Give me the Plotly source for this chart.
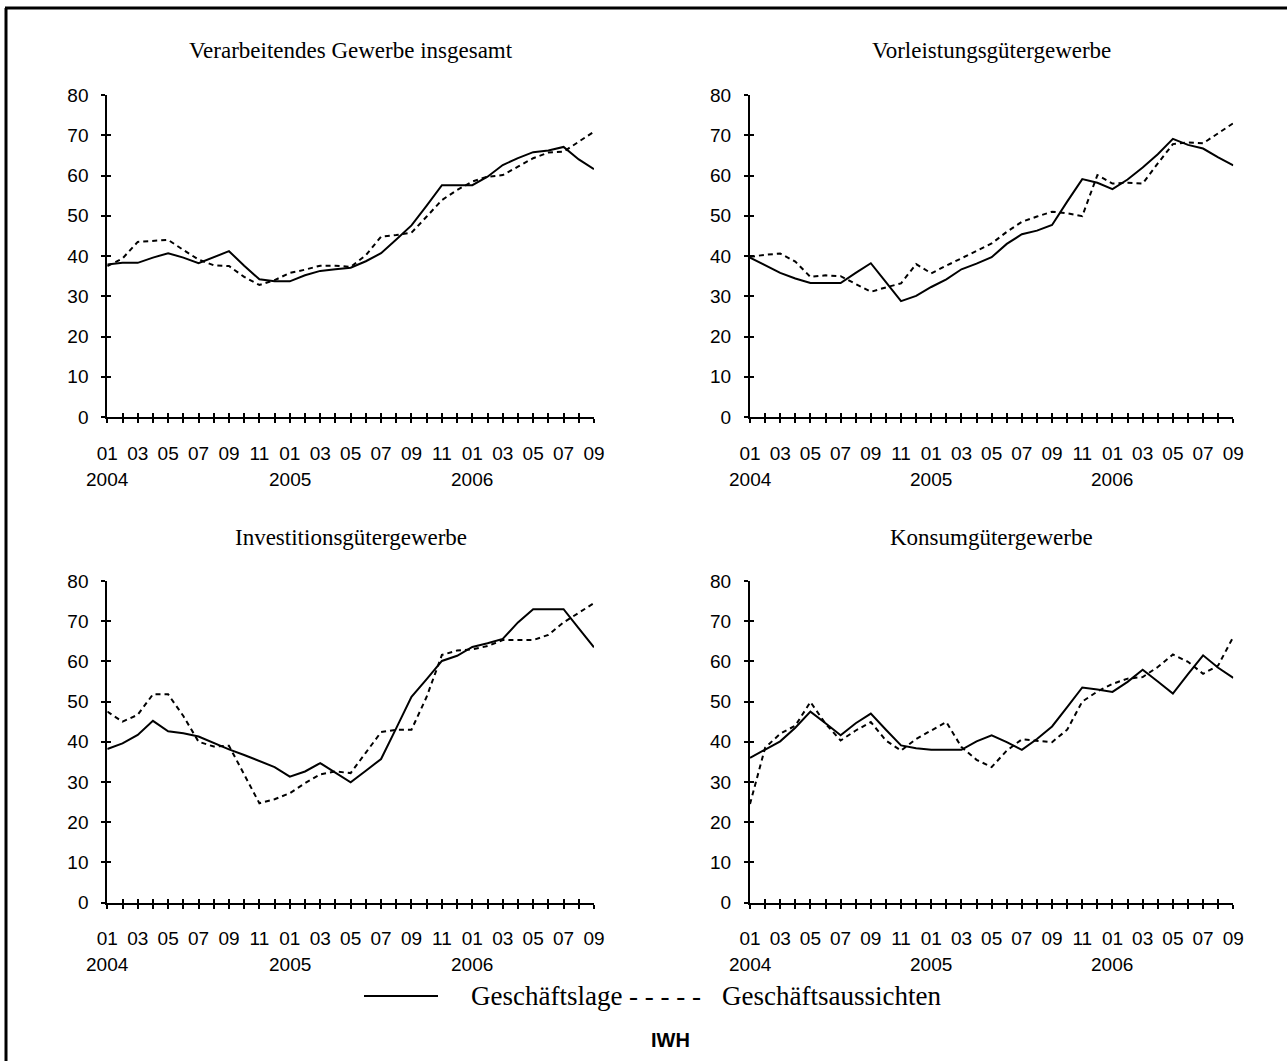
import plotly.graph_objects as go

# ---------------- data ----------------
months = ["2004-01", "2004-02", "2004-03", "2004-04", "2004-05", "2004-06", "2004-07", "2004-08",
          "2004-09", "2004-10", "2004-11", "2004-12", "2005-01", "2005-02", "2005-03", "2005-04",
          "2005-05", "2005-06", "2005-07", "2005-08", "2005-09", "2005-10", "2005-11", "2005-12",
          "2006-01", "2006-02", "2006-03", "2006-04", "2006-05", "2006-06", "2006-07", "2006-08",
          "2006-09"]
year_labels = ["2004", "2005", "2006"]
titles = ["Verarbeitendes Gewerbe insgesamt", "Vorleistungsgütergewerbe",
          "Investitionsgütergewerbe", "Konsumgütergewerbe"]
series_names = ["Geschäftslage", "Geschäftsaussichten"]
y_ticks = [0, 10, 20, 30, 40, 50, 60, 70, 80]

p1_lage = [37.9, 38.3, 38.3, 39.6, 40.7, 39.6, 38.2, 39.8, 41.2, 37.6, 34.2, 33.7, 33.7, 35.2, 36.3, 36.7,
           37.1, 38.7, 40.7, 44.1, 47.6, 52.5, 57.6, 57.6, 57.6, 59.7, 62.6, 64.3, 65.8, 66.2, 67.1, 64.0, 61.6]
p1_auss = [37.5, 39.4, 43.5, 43.7, 44.0, 41.5, 39.1, 37.7, 37.5, 34.8, 32.8, 34.0, 35.8, 36.6, 37.6, 37.6,
           37.3, 40.2, 44.8, 45.2, 45.8, 49.8, 53.9, 56.4, 58.5, 59.7, 60.1, 62.2, 64.3, 65.7, 65.9, 68.4, 70.9]

p2_lage = [39.6, 37.7, 35.8, 34.4, 33.3, 33.3, 33.3, 35.8, 38.2, 33.5, 28.8, 30.1, 32.3, 34.2, 36.7, 38.1,
           39.7, 43.0, 45.4, 46.3, 47.7, 53.5, 59.1, 58.2, 56.6, 59.0, 62.0, 65.3, 69.1, 67.6, 66.7, 64.5, 62.5]
p2_auss = [39.8, 40.3, 40.6, 38.6, 34.8, 35.2, 35.0, 33.0, 31.1, 32.2, 33.2, 38.0, 35.7, 37.6, 39.4, 41.3,
           43.1, 46.0, 48.5, 49.8, 51.0, 50.6, 49.9, 60.1, 58.0, 58.2, 58.0, 63.0, 67.8, 68.2, 68.0, 70.5, 73.0]

p3_lage = [38.2, 39.6, 41.7, 45.2, 42.6, 42.1, 41.3, 39.6, 38.1, 36.7, 35.2, 33.7, 31.3, 32.6, 34.7, 32.2,
           29.9, 32.8, 35.7, 43.4, 51.2, 55.6, 60.1, 61.4, 63.6, 64.5, 65.6, 69.7, 73.0, 73.0, 73.0, 68.2, 63.5]
p3_auss = [47.5, 45.0, 46.7, 51.8, 51.8, 46.4, 40.0, 38.8, 39.0, 31.8, 24.7, 25.7, 27.2, 29.7, 31.9, 32.6,
           32.2, 37.3, 42.4, 43.0, 43.0, 51.2, 61.6, 62.7, 63.0, 63.8, 65.3, 65.3, 65.3, 66.6, 69.7, 72.1, 74.5]

p4_lage = [36.0, 38.0, 40.1, 43.5, 47.5, 44.6, 41.6, 44.6, 47.0, 43.0, 39.1, 38.4, 38.0, 38.0, 38.0, 40.1,
           41.6, 39.9, 38.0, 40.7, 43.8, 48.6, 53.5, 53.0, 52.4, 54.9, 57.9, 55.0, 52.0, 56.8, 61.5, 58.4, 55.9]
p4_auss = [24.5, 38.5, 42.0, 44.0, 49.9, 44.5, 40.3, 42.8, 44.9, 40.3, 37.8, 40.7, 42.8, 44.9, 38.7, 35.5,
           33.7, 37.8, 40.6, 40.3, 39.9, 43.0, 50.0, 52.5, 54.4, 55.7, 56.1, 58.6, 61.7, 59.9, 56.9, 59.0, 66.1]

panels = [(p1_lage, p1_auss), (p2_lage, p2_auss), (p3_lage, p3_auss), (p4_lage, p4_auss)]

# ---------------- layout geometry ----------------
W, H = 1287, 1061
def px_x(v):
    return v / W
def px_y(v):
    return 1 - v / H

x_domains = [[px_x(107.3), px_x(594)], [px_x(750), px_x(1233.3)]]
y_domains = [[px_y(417), px_y(95)], [px_y(902.5), px_y(581)]]

SANS = "Liberation Sans, Arial, sans-serif"
SERIF = "Liberation Serif, Times New Roman, serif"
TICKFONT = dict(family=SANS, size=19, color="black")

tick_text = [m[5:] if int(m[5:]) % 2 == 1 else "" for m in months]

fig = go.Figure()
layout = dict(
    width=W, height=H,
    margin=dict(l=0, r=0, t=0, b=0, pad=0),
    paper_bgcolor="white", plot_bgcolor="white",
    showlegend=False,
)
annotations = []
shapes = []

for k in range(4):
    n = k + 1
    sx = "" if n == 1 else str(n)
    col, row = k % 2, k // 2
    xd, yd = x_domains[col], y_domains[row]
    lage, auss = panels[k]

    fig.add_trace(go.Scatter(x=months, y=lage, mode="lines", name=series_names[0],
                             line=dict(color="black", width=2),
                             xaxis="x" + sx, yaxis="y" + sx))
    fig.add_trace(go.Scatter(x=months, y=auss, mode="lines", name=series_names[1],
                             line=dict(color="black", width=2, dash="5px,4px"),
                             xaxis="x" + sx, yaxis="y" + sx))

    layout["xaxis" + sx] = dict(
        domain=xd, anchor="y" + sx, type="category", range=[0, len(months) - 1],
        tickmode="array", tickvals=months, ticktext=tick_text,
        ticks="outside", ticklen=4, tickwidth=2, tickcolor="black",
        showline=True, linewidth=2, linecolor="black",
        showgrid=False, zeroline=False, tickfont=TICKFONT, ticklabelstandoff=14,
        tickangle=0, automargin=False,
    )
    layout["yaxis" + sx] = dict(
        domain=yd, anchor="x" + sx, range=[0, 80], tickmode="array", tickvals=y_ticks,
        ticks="outside", ticklen=4, tickwidth=2, tickcolor="black",
        showline=True, linewidth=2, linecolor="black",
        showgrid=False, zeroline=False, tickfont=TICKFONT, ticklabelstandoff=9,
        automargin=False,
    )
    # overlay axes to draw the inner half of the crossing ticks
    ox, oy = str(n + 4), str(n + 4)
    layout["xaxis" + ox] = dict(
        overlaying="x" + sx, anchor="y" + sx, side="bottom", type="linear",
        range=[0, len(months) - 1], tickmode="linear", tick0=0, dtick=1,
        ticks="inside", ticklen=4, tickwidth=2, tickcolor="black",
        showticklabels=False, showline=False, showgrid=False, zeroline=False,
    )
    layout["yaxis" + oy] = dict(
        overlaying="y" + sx, anchor="x" + sx, side="left",
        range=[0, 80], tickmode="array", tickvals=y_ticks,
        ticks="inside", ticklen=4, tickwidth=2, tickcolor="black",
        showticklabels=False, showline=False, showgrid=False, zeroline=False,
    )
    fig.add_trace(go.Scatter(x=[None], y=[None], xaxis="x" + ox, yaxis="y" + sx,
                             hoverinfo="skip", showlegend=False))
    fig.add_trace(go.Scatter(x=[None], y=[None], xaxis="x" + sx, yaxis="y" + oy,
                             hoverinfo="skip", showlegend=False))

    # subplot title
    annotations.append(dict(text=titles[k], x=0.5, xref="x" + sx + " domain",
                            y=1, yref="y" + sx + " domain", yshift=44,
                            xanchor="center", yanchor="middle", showarrow=False,
                            font=dict(family=SERIF, size=23, color="black")))
    # year labels under January ticks
    for yl in year_labels:
        annotations.append(dict(text=yl, x=yl + "-01", xref="x" + sx,
                                y=0, yref="y" + sx + " domain", yshift=-62,
                                xanchor="center", yanchor="middle", showarrow=False,
                                font=TICKFONT))

# ---------------- legend (drawn manually) ----------------
leg_y = px_y(996)
shapes.append(dict(type="line", xref="paper", yref="paper",
                   x0=px_x(364), x1=px_x(438), y0=leg_y, y1=leg_y,
                   line=dict(color="black", width=2)))
LEGFONT = dict(family=SERIF, size=27, color="black")
annotations.append(dict(text=series_names[0], x=px_x(469), y=leg_y, xref="paper", yref="paper",
                        xanchor="left", yanchor="middle", showarrow=False, font=LEGFONT))
annotations.append(dict(text="- - - - -", x=px_x(627), y=leg_y, xref="paper", yref="paper",
                        xanchor="left", yanchor="middle", showarrow=False, font=LEGFONT))
annotations.append(dict(text=series_names[1], x=px_x(720), y=leg_y, xref="paper", yref="paper",
                        xanchor="left", yanchor="middle", showarrow=False, font=LEGFONT))
annotations.append(dict(text="<b>IWH</b>", x=px_x(670), y=px_y(1040), xref="paper", yref="paper",
                        xanchor="center", yanchor="middle", showarrow=False,
                        font=dict(family=SANS, size=20, color="black")))

# frame lines (top and left)
shapes.append(dict(type="line", xref="paper", yref="paper",
                   x0=px_x(5), x1=1, y0=px_y(8), y1=px_y(8), line=dict(color="black", width=3)))
shapes.append(dict(type="line", xref="paper", yref="paper",
                   x0=px_x(6), x1=px_x(6), y0=px_y(8), y1=0, line=dict(color="black", width=3)))

layout["annotations"] = annotations
layout["shapes"] = shapes
fig.update_layout(**layout)

fig.write_html(
    "out.html",
    config={"displayModeBar": False},
    post_script="document.body.style.margin='0';document.body.style.overflow='hidden';",
)
